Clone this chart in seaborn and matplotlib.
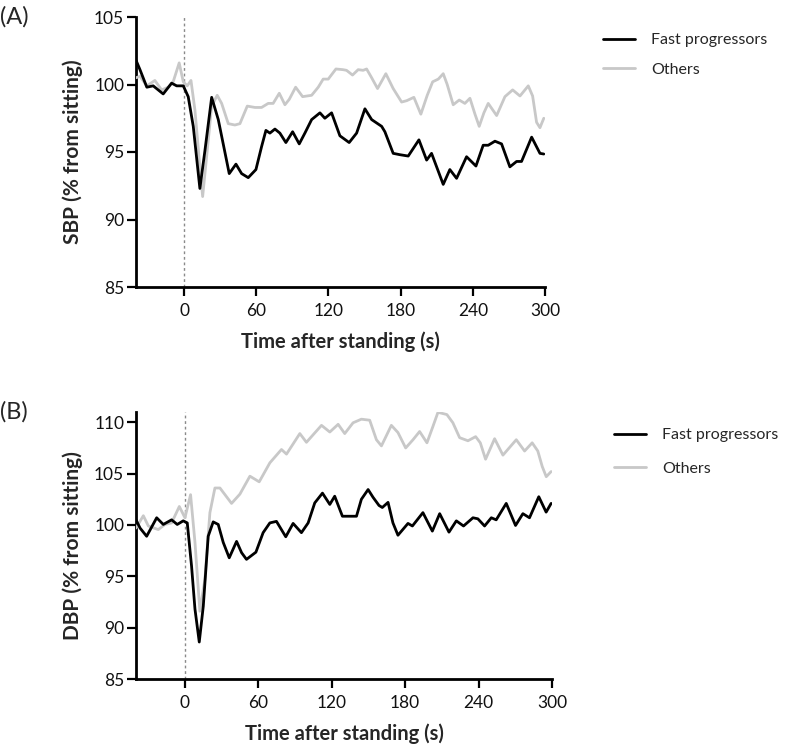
import numpy as np
import pandas as pd
import matplotlib
matplotlib.use("Agg")
import matplotlib.pyplot as plt
from matplotlib.lines import Line2D
import seaborn as sns

# ---------------- data ----------------
# Panel A: SBP (% from sitting)
sbp_fast_t = [-40, -36.7, -31, -25.7, -17.4, -10.4, -6.2, -0.7, 3.4, 7.6, 13.1, 17.3, 22.9, 28.4,
              32.5, 37.5, 43.1, 47.8, 53.3, 59.7, 64.4, 68, 71.3, 75.5, 79.6, 84.6, 90.2, 95.7,
              100.4, 106, 112.9, 117, 122.6, 129.5, 137.2, 143.4, 150.3, 155.9, 164.2, 166.9,
              173.8, 179.4, 186.3, 195.2, 201.6, 205.7, 215.4, 220.9, 226.5, 234.8, 242.6, 248.6,
              252.8, 258.4, 263.9, 270.8, 276.4, 280.5, 288.9, 295.8, 299]
sbp_fast_v = [101.8, 101.1, 99.8, 99.9, 99.3, 100.1, 99.9, 99.9, 99.1, 96.9, 92.3, 95.1, 99.05, 97.4,
              95.6, 93.4, 94.1, 93.4, 93.1, 93.7, 95.4, 96.6, 96.4, 96.7, 96.4, 95.7, 96.5, 95.6,
              96.4, 97.4, 97.9, 97.5, 97.9, 96.2, 95.7, 96.4, 98.2, 97.4, 96.9, 96.5,
              94.9, 94.8, 94.7, 95.9, 94.4, 94.9, 92.6, 93.7, 93.05, 94.65, 93.96, 95.5,
              95.5, 95.8, 95.6, 93.9, 94.3, 94.3, 96.1, 94.9, 94.85]
sbp_other_t = [-40, -36.7, -31, -24.3, -18.7, -13.2, -9.1, -4.1, -0.7, 2.6, 5.7, 9, 13.1, 15.4,
               19.2, 22.9, 27.5, 31.2, 36.7, 42.2, 46.4, 52.5, 58.9, 64.4, 69.9, 74, 79.1, 83.8,
               87.4, 92.7, 98.5, 106, 111.5, 115.6, 119.8, 126.2, 132, 135, 140, 144.7, 148.8,
               151.7, 155.9, 160.8, 167.7, 173.8, 180.8, 185, 191, 196.8, 202.1, 206.6, 211.3,
               215.4, 218.7, 223.7, 228.7, 233.4, 237.6, 241.8, 245.3, 249.2, 252.8, 259.8,
               266.7, 273.1, 279.2, 286.1, 289.7, 293, 295.8, 299]
sbp_other_v = [100.5, 100.6, 99.9, 100.3, 99.6, 99.8, 100.2, 101.6, 100.2, 99.9, 100.3, 98.1, 93.9, 91.7,
               95.1, 98.4, 99.2, 98.6, 97.1, 97.0, 97.1, 98.4, 98.3, 98.3, 98.6, 98.6, 99.35, 98.5,
               98.9, 99.8, 99.1, 99.2, 99.8, 100.4, 100.4, 101.15, 101.1, 101.05, 100.7, 101.1, 101.05,
               101.15, 100.5, 99.7, 100.8, 99.7, 98.7, 98.8, 99.05, 97.8, 99.2, 100.2, 100.4,
               100.8, 100.0, 98.5, 98.85, 98.6, 98.98, 97.8, 96.9, 97.9, 98.6, 97.7,
               99.1, 99.6, 99.15, 99.9, 99.15, 97.2, 96.8, 97.5]

# Panel B: DBP (% from sitting)
dbp_fast_t = [-40, -36.7, -31.3, -27.2, -23.1, -17.7, -10.9, -6.3, -1.4, 1.9, 5.4, 8.2, 11.7, 15,
              19, 23.1, 27.2, 31.3, 36.2, 42.2, 46.3, 50.3, 58, 63.9, 69.4, 74.8, 82.4, 88.4,
              95.2, 100.7, 106.1, 112.4, 118.4, 122.4, 128.7, 134.7, 140.2, 144.2, 149.7, 153.7,
              158.6, 161.3, 166, 170, 174.1, 182.3, 185.9, 194.5, 202.2, 208.2, 215.8, 221.8,
              227.7, 235.4, 239.4, 244.9, 250.4, 254.4, 262.6, 270.2, 276.2, 281.6, 289.2,
              295.2, 299.3]
dbp_fast_v = [100.5, 99.7, 98.9, 99.8, 100.7, 100.05, 100.5, 100.05, 100.4, 100.2, 96.0, 91.8, 88.6, 92.1,
              98.9, 100.3, 100.05, 98.3, 96.8, 98.4, 97.3, 96.65, 97.35, 99.25, 100.2, 100.35, 98.85, 100.15,
              99.25, 100.2, 102.15, 103.1, 102.0, 102.8, 100.85, 100.85, 100.85, 102.5, 103.45, 102.7,
              101.9, 101.7, 102.2, 100.2, 99.0, 100.15, 99.9, 101.2, 99.4, 101.1, 99.3, 100.4,
              99.9, 100.7, 100.6, 99.9, 100.7, 100.5, 102.1, 99.95, 101.1, 100.7, 102.75,
              101.25, 102.1]
dbp_other_t = [-40, -34, -29.9, -21.8, -16.3, -10.9, -4.6, 0, 4.6, 8.2, 12.2, 16.3, 20.4, 24.5,
               28.6, 38.1, 44.9, 53.1, 60.7, 69.4, 78.9, 83, 93.9, 99.3, 111.6, 118.4, 125.2,
               130.6, 137.4, 144.2, 151, 156.5, 160.6, 168.7, 174.1, 180.4, 186.4, 191.8, 197.8,
               202.7, 206.8, 214.1, 219, 224.5, 231.3, 237.6, 241.4, 245.7, 253.1, 259.9, 270.8,
               277.6, 283.8, 288.4, 292, 295.3, 299.3]
dbp_other_v = [99.7, 100.9, 99.9, 99.55, 100.05, 100.2, 101.8, 100.7, 102.95, 98.3, 91.6, 94.7, 101.2, 103.6,
               103.6, 102.1, 103.0, 104.75, 104.2, 106.05, 107.35, 106.9, 108.9, 108.05, 109.7, 109.05, 109.8,
               108.9, 109.95, 110.3, 110.2, 108.3, 107.7, 109.7, 109.0, 107.5, 108.3, 109.1, 108.0,
               109.6, 110.97, 110.75, 109.95, 108.5, 108.2, 108.6, 108.0, 106.4, 108.4, 106.8, 108.3,
               107.2, 108.0, 107.2, 105.7, 104.7, 105.2]

groups = ["Fast progressors", "Others"]
x_ticks = [0, 60, 120, 180, 240, 300]
sbp_ticks = [85, 90, 95, 100, 105]
dbp_ticks = [85, 90, 95, 100, 105, 110]


def long_df(ft, fv, ot, ov):
    return pd.concat([
        pd.DataFrame({"time": ft, "value": fv, "group": groups[0]}),
        pd.DataFrame({"time": ot, "value": ov, "group": groups[1]}),
    ], ignore_index=True)


df_a = long_df(sbp_fast_t, sbp_fast_v, sbp_other_t, sbp_other_v)
df_b = long_df(dbp_fast_t, dbp_fast_v, dbp_other_t, dbp_other_v)

# ---------------- styling ----------------
sns.set_theme(style="ticks")
plt.rcParams["font.family"] = ["Lato", "DejaVu Sans"]
plt.rcParams["lines.solid_joinstyle"] = "round"
plt.rcParams["lines.solid_capstyle"] = "round"

W, H = 786, 744
fig = plt.figure(figsize=(W / 100, H / 100), dpi=100)

palette = {"Fast progressors": "#000000", "Others": "#c8c8c8"}


def fx(px):
    return px / W


def fy(py):
    return 1 - py / H


ax_a = fig.add_axes([fx(136), fy(287), fx(545) - fx(136), fy(17) - fy(287)])
ax_b = fig.add_axes([fx(136), fy(679), fx(552) - fx(136), fy(412) - fy(679)])


def style_panel(ax, df, yticks, ylim, ylabel, leg_xy, spacing):
    ax.axvline(0, color="#8a8a8a", lw=1.0, ls=(0, (2, 2)), zorder=1)
    sns.lineplot(data=df, x="time", y="value", hue="group", hue_order=groups[::-1],
                 palette=palette, estimator=None, sort=True, lw=2.0, ax=ax, zorder=3,
                 legend=False)
    ax.set_xlim(-40, 300)
    ax.set_ylim(*ylim)
    ax.set_xticks(x_ticks)
    ax.set_yticks(yticks)
    ax.tick_params(axis="both", direction="out", length=6.5, width=1.6, labelsize=12.5,
                   color="black", labelcolor="#111111")
    ax.tick_params(axis="x", pad=5)
    ax.tick_params(axis="y", pad=2)
    for side in ["top", "right"]:
        ax.spines[side].set_visible(False)
    for side in ["left", "bottom"]:
        ax.spines[side].set_linewidth(2.0)
        ax.spines[side].set_color("black")
    ax.set_xlabel("Time after standing (s)", fontsize=14.5, fontweight="bold", labelpad=9)
    ax.set_ylabel(ylabel, fontsize=15, fontweight="bold", labelpad=8)
    handles = [Line2D([], [], color=palette[g], lw=2.0) for g in groups]
    ax.legend(handles, groups, loc="upper left", bbox_to_anchor=leg_xy,
              bbox_transform=fig.transFigure, frameon=False, fontsize=11.5,
              handlelength=2.0, handletextpad=1.0, labelspacing=spacing, borderpad=0,
              borderaxespad=0)


style_panel(ax_a, df_a, sbp_ticks, (85, 105), "SBP (% from sitting)", (fx(603), fy(33)), 0.95)
style_panel(ax_b, df_b, dbp_ticks, (85, 111), "DBP (% from sitting)", (fx(614), fy(428)), 1.2)

fig.text(fx(0), fy(17), "(A)", fontsize=17, va="center", ha="left")
fig.text(fx(0), fy(412), "(B)", fontsize=17, va="center", ha="left")

fig.savefig("out.png", dpi=100)
